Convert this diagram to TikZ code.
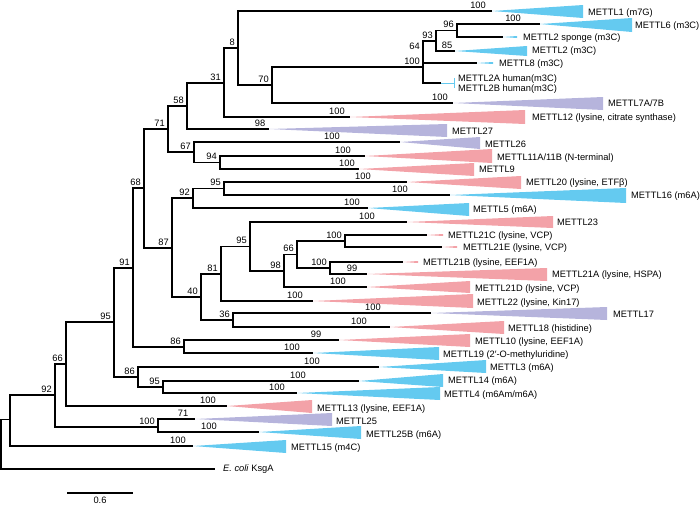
\documentclass[tikz,border=0pt]{standalone}
\usepackage{fontspec}
\setmainfont{Liberation Sans}
\definecolor{cblue}{RGB}{100,202,240}
\definecolor{cpink}{RGB}{243,162,168}
\definecolor{cpurp}{RGB}{182,180,220}
\newcommand\ctri[5]{\fill[#5] (#1) -- (#2,#3) -- (#2,#4) -- cycle;}
\begin{document}
\begin{tikzpicture}[x=1pt,y=-1pt,
 br/.style={line width=1.3pt},
 bslab/.style={font=\fontsize{9.3}{11}\selectfont, inner sep=0pt, anchor=base east, xshift=-3pt, yshift=3pt},
 clab/.style={font=\fontsize{9.3}{11}\selectfont, inner sep=0pt, anchor=base},
 llab/.style={font=\fontsize{9.3}{11}\selectfont, inner sep=0pt, anchor=base west}]
\useasboundingbox (0,0) rectangle (700,504);
% coordinates
\coordinate (R) at (1,444);
\coordinate (B) at (10,419.5);
\coordinate (Ec) at (215,469);
\coordinate (n92) at (55,395);
\coordinate (M15) at (193,446);
\coordinate (n66) at (66,364);
\coordinate (n25) at (158,427);
\coordinate (n95o) at (114,322);
\coordinate (M13) at (227,406);
\coordinate (n91) at (133,268);
\coordinate (n86b) at (138,377);
\coordinate (n68) at (144,188);
\coordinate (n86a) at (184,347);
\coordinate (n71) at (168,129);
\coordinate (n87) at (172,248);
\coordinate (n58) at (187,106);
\coordinate (n67) at (194,152);
\coordinate (n31) at (224,83);
\coordinate (M27) at (269,129);
\coordinate (n8) at (238,48);
\coordinate (M12) at (350,117);
\coordinate (M1) at (492,11);
\coordinate (n70) at (272,85);
\coordinate (n100m) at (423,67);
\coordinate (M7) at (453,103);
\coordinate (n64) at (423,52);
\coordinate (M2AB) at (441,83);
\coordinate (n93) at (436,41);
\coordinate (M8) at (477,63);
\coordinate (n96) at (457,30.5);
\coordinate (M2) at (455,51);
\coordinate (M6) at (540,24);
\coordinate (Msp) at (503,37);
\coordinate (M26) at (400,142);
\coordinate (n94) at (220,162.5);
\coordinate (M11) at (365,156);
\coordinate (M9) at (359,169);
\coordinate (n92b) at (193,198);
\coordinate (n40) at (201,297);
\coordinate (n95a) at (224,188.5);
\coordinate (M5) at (368,208);
\coordinate (M20) at (407,182);
\coordinate (M16) at (450,195);
\coordinate (n81) at (221,274);
\coordinate (n36) at (233,320);
\coordinate (n95b) at (250,246.5);
\coordinate (M22) at (313,301);
\coordinate (M23) at (407,222);
\coordinate (n98) at (284,271);
\coordinate (n66b) at (297,254.5);
\coordinate (M21D) at (367,287);
\coordinate (n100c) at (345,241);
\coordinate (n100b) at (330,268);
\coordinate (M21C) at (427,235);
\coordinate (M21E) at (442,247);
\coordinate (M21B) at (403,262);
\coordinate (M21A) at (367,274);
\coordinate (M17) at (431,313);
\coordinate (M18) at (390,327);
\coordinate (M10) at (339,340);
\coordinate (M19) at (313,353);
\coordinate (M3) at (379,367);
\coordinate (n95c) at (163,387);
\coordinate (M14) at (359,381);
\coordinate (M4) at (297,393);
\coordinate (M25) at (195,419);
\coordinate (M25B) at (259,432);
\coordinate (sbA) at (67,493);
\coordinate (sbB) at (133,493);
% triangles
\ctri{M1}{583}{5}{18}{cblue}
\ctri{M6}{632}{18}{32}{cblue}
\ctri{Msp}{517}{36}{38}{cblue}
\ctri{M2}{527}{46}{56}{cblue}
\ctri{M8}{493}{62}{64}{cblue}
\ctri{M7}{603}{97}{110}{cpurp}
\ctri{M12}{525}{110}{124}{cpink}
\ctri{M27}{447}{124}{137}{cpurp}
\ctri{M26}{480}{137}{149}{cpurp}
\ctri{M11}{492}{149}{163}{cpink}
\ctri{M9}{474}{163}{176}{cpink}
\ctri{M20}{521}{176}{189}{cpink}
\ctri{M16}{626}{188}{203}{cblue}
\ctri{M5}{469}{203}{216}{cblue}
\ctri{M23}{553}{216}{228}{cpink}
\ctri{M21C}{443}{234}{236}{cpink}
\ctri{M21E}{457}{246}{248}{cpink}
\ctri{M21B}{418}{261}{263}{cpink}
\ctri{M21A}{547}{268}{281}{cpink}
\ctri{M21D}{470}{281}{293}{cpink}
\ctri{M22}{473}{294}{308}{cpink}
\ctri{M17}{607}{307}{320}{cpurp}
\ctri{M18}{504}{321}{334}{cpink}
\ctri{M10}{470}{334}{347}{cpink}
\ctri{M19}{439}{347}{360}{cblue}
\ctri{M3}{486}{360}{373}{cblue}
\ctri{M14}{443}{374}{387}{cblue}
\ctri{M4}{440}{387}{400}{cblue}
\ctri{M13}{312}{400}{413}{cpink}
\ctri{M25}{332}{413}{426}{cpurp}
\ctri{M25B}{361}{426}{439}{cblue}
\ctri{M15}{286}{440}{453}{cblue}
\draw[cblue, line width=1pt] (M2AB) -- (454,83) (454,78) -- (454,88);
% branches
\foreach \p/\c in {R/B, R/Ec, B/n92, B/M15, n92/n66, n92/n25, n66/n95o, n66/M13,
 n95o/n91, n95o/n86b, n91/n68, n91/n86a, n68/n71, n68/n87, n71/n58, n71/n67,
 n58/n31, n58/M27, n31/n8, n31/M12, n8/M1, n8/n70, n70/n100m, n70/M7,
 n100m/n64, n100m/M2AB, n64/n93, n64/M8, n93/n96, n93/M2, n96/M6, n96/Msp,
 n67/M26, n67/n94, n94/M11, n94/M9, n87/n92b, n87/n40, n92b/n95a, n92b/M5,
 n95a/M20, n95a/M16, n40/n81, n40/n36, n81/n95b, n81/M22, n95b/M23, n95b/n98,
 n98/n66b, n98/M21D, n66b/n100c, n66b/n100b, n100c/M21C, n100c/M21E,
 n100b/M21B, n100b/M21A, n36/M17, n36/M18, n86a/M10, n86a/M19, n86b/M3,
 n86b/n95c, n95c/M14, n95c/M4, n25/M25, n25/M25B}
  \draw[br] (\p) |- (\c);
\draw[br] (sbA) -- (sbB);
% internal support labels
\foreach \n/\t in {n58/58, n71/71, n68/68, n87/87, n31/31, n8/8, n70/70, n100m/100,
 n64/64, n93/93, n96/96, n67/67, n94/94, n92b/92, n95a/95, n40/40, n81/81,
 n95b/95, n98/98, n66b/66, n100c/100, n100b/100, n36/36, n86a/86, n86b/86,
 n95c/95, n91/91, n95o/95, n66/66, n92/92, n25/100}
  \node[bslab] (s\n) at (\n) {\t};
% clade support labels
\foreach \i/\x/\y/\t in {a/478/11/100, b/513/24/100, c/447/51/85, d/440/103/100,
 e/337/117/100, f/260/129/98, g/332/142/100, h/343/156/100, i/347/169/100,
 j/363/182/100, k/400/195/100, l/352/208/100, m/367/222/100, n/352/274/99,
 o/338/287/100, p/295/301/100, q/373/313/100, r/359/327/100, s/316/340/99,
 t/292/353/100, u/312/367/100, v/298/381/100, w/277/393/100, x/208/406/100,
 y/183/419/71, z/209/432/100, zz/178/446/100}
  \node[clab] (c\i) at (\x,{\y-3}) {\t};
% leaf labels
\node[llab] (tM1) at (588,15.5) {METTL1 (m7G)};
\node[llab] (tM6) at (635,28.5) {METTL6 (m3C)};
\node[llab] (tMsp) at (523,40.5) {METTL2 sponge (m3C)};
\node[llab] (tM2) at (532,53.5) {METTL2 (m3C)};
\node[llab] (tM8) at (499,66.5) {METTL8 (m3C)};
\node[llab] (tM2A) at (458,81.5) {METTL2A human(m3C)};
\node[llab] (tM2B) at (458,91.5) {METTL2B human(m3C)};
\node[llab] (tM7) at (608,106.5) {METTL7A/7B};
\node[llab] (tM12) at (532,120.5) {METTL12 (lysine, citrate synthase)};
\node[llab] (tM27) at (452,134.5) {METTL27};
\node[llab] (tM26) at (485,147.5) {METTL26};
\node[llab] (tM11) at (497,160.5) {METTL11A/11B (N-terminal)};
\node[llab] (tM9) at (479,172.5) {METTL9};
\node[llab] (tM20) at (526,185.5) {METTL20 (lysine, ETFβ)};
\node[llab] (tM16) at (631,198.5) {METTL16 (m6A)};
\node[llab] (tM5) at (473,212.5) {METTL5 (m6A)};
\node[llab] (tM23) at (557,225.5) {METTL23};
\node[llab] (tM21C) at (448,238.5) {METTL21C (lysine, VCP)};
\node[llab] (tM21E) at (463,250.5) {METTL21E (lysine, VCP)};
\node[llab] (tM21B) at (423,265.5) {METTL21B (lysine, EEF1A)};
\node[llab] (tM21A) at (552,277.5) {METTL21A (lysine, HSPA)};
\node[llab] (tM21D) at (475,291.5) {METTL21D (lysine, VCP)};
\node[llab] (tM22) at (477,305.5) {METTL22 (lysine, Kin17)};
\node[llab] (tM17) at (613,317.5) {METTL17};
\node[llab] (tM18) at (508,331.5) {METTL18 (histidine)};
\node[llab] (tM10) at (475,344.5) {METTL10 (lysine, EEF1A)};
\node[llab] (tM19) at (443,357.5) {METTL19 (2′-O-methyluridine)};
\node[llab] (tM3) at (490,370.5) {METTL3 (m6A)};
\node[llab] (tM14) at (448,383.5) {METTL14 (m6A)};
\node[llab] (tM4) at (444,397.5) {METTL4 (m6Am/m6A)};
\node[llab] (tM13) at (317,411.5) {METTL13 (lysine, EEF1A)};
\node[llab] (tM25) at (336,424.5) {METTL25};
\node[llab] (tM25B) at (366,437.5) {METTL25B (m6A)};
\node[llab] (tM15) at (291,450.5) {METTL15 (m4C)};
\node[llab] (tEc) at (223,471.5) {\textit{E. coli} KsgA};
\node[clab] (tsb) at (100,503.5) {0.6};
\end{tikzpicture}
\end{document}
